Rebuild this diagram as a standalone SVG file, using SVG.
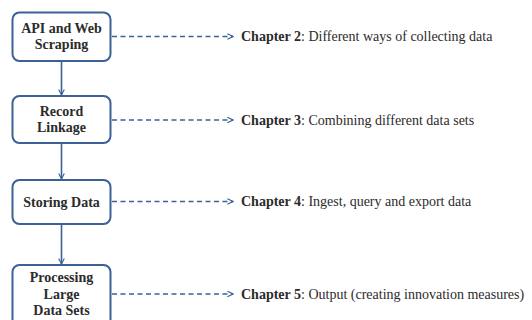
<svg xmlns="http://www.w3.org/2000/svg" width="532" height="320" viewBox="0 0 532 320">
<style>
.box{fill:#fff;stroke:#3b6197;stroke-width:2}
.bt{font-family:"Liberation Serif",serif;font-weight:bold;font-size:14px;fill:#2b2b2b;text-anchor:middle}
.ct{font-family:"Liberation Serif",serif;font-size:14px;fill:#2b2b2b}
.ct tspan.b{font-weight:bold}
.solid{stroke:#3b6197;stroke-width:1.6;fill:none}
.dash{stroke:#3b6197;stroke-width:1.4;fill:none;stroke-dasharray:5,3.5}
</style>
<defs>
<marker id="ah" viewBox="0 0 10 10" refX="9" refY="5" markerWidth="7" markerHeight="7" markerUnits="userSpaceOnUse" orient="auto">
<path d="M1,1 L9,5 L1,9" fill="none" stroke="#3b6197" stroke-width="1.6"/>
</marker>
</defs>
<rect width="532" height="320" fill="#fff"/>
<g id="connectors">
<line class="solid" x1="61.5" y1="61" x2="61.5" y2="95" marker-end="url(#ah)"/>
<line class="solid" x1="61.5" y1="143" x2="61.5" y2="179" marker-end="url(#ah)"/>
<line class="solid" x1="61.5" y1="224" x2="61.5" y2="264" marker-end="url(#ah)"/>
<line class="dash" x1="112" y1="36.5" x2="233" y2="36.5" marker-end="url(#ah)"/>
<line class="dash" x1="112" y1="120" x2="233" y2="120" marker-end="url(#ah)"/>
<line class="dash" x1="112" y1="201.5" x2="233" y2="201.5" marker-end="url(#ah)"/>
<line class="dash" x1="112" y1="294" x2="233" y2="294" marker-end="url(#ah)"/>
</g>
<g id="n1">
<rect class="box" x="12.5" y="12.5" width="98" height="48.5" rx="7"/>
<text class="bt" x="61.5" y="33">API and Web</text>
<text class="bt" x="61.5" y="49">Scraping</text>
</g>
<g id="n2">
<rect class="box" x="12.5" y="96" width="98" height="47" rx="7"/>
<text class="bt" x="61.5" y="116">Record</text>
<text class="bt" x="61.5" y="132">Linkage</text>
</g>
<g id="n3">
<rect class="box" x="12.5" y="180" width="98" height="44" rx="7"/>
<text class="bt" x="61.5" y="207">Storing Data</text>
</g>
<g id="n4">
<rect class="box" x="12.5" y="265" width="98" height="70" rx="7"/>
<text class="bt" x="61.5" y="282">Processing</text>
<text class="bt" x="61.5" y="298.5">Large</text>
<text class="bt" x="61.5" y="315">Data Sets</text>
</g>
<g id="labels">
<text class="ct" x="241" y="41"><tspan class="b">Chapter 2</tspan>: Different ways of collecting data</text>
<text class="ct" x="241" y="124.5"><tspan class="b">Chapter 3</tspan>: Combining different data sets</text>
<text class="ct" x="241" y="206"><tspan class="b">Chapter 4</tspan>: Ingest, query and export data</text>
<text class="ct" x="241" y="298.5"><tspan class="b">Chapter 5</tspan>: Output (creating innovation measures)</text>
</g>
</svg>
